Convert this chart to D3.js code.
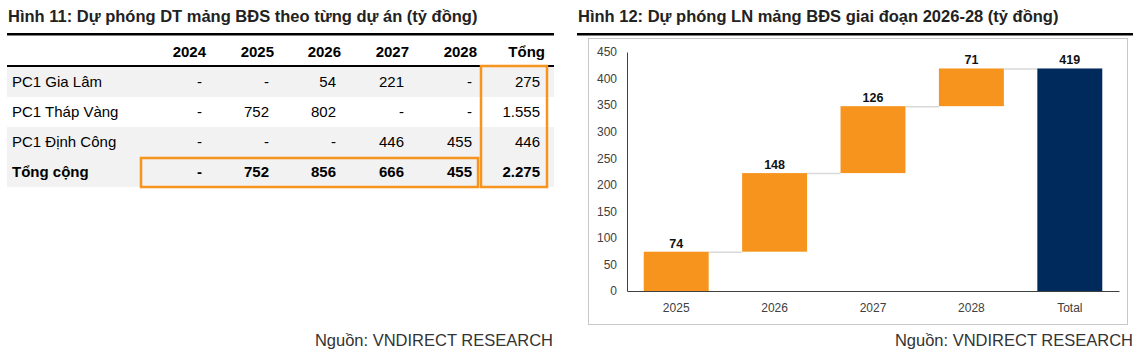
<!DOCTYPE html>
<html>
<head>
<meta charset="utf-8">
<script src="https://cdn.jsdelivr.net/npm/d3@7"></script>
<style>
  body { margin: 0; background: #fff; }
  svg { font-family: "Liberation Sans", Arial, sans-serif; }
</style>
</head>
<body>
<div id="chart"></div>
<script>
// table data (left)
const tableYears = ["2024", "2025", "2026", "2027", "2028", "Tổng"];
const projects = ["PC1 Gia Lâm", "PC1 Tháp Vàng", "PC1 Định Công", "Tổng cộng"];
const giaLam = ["-", "-", "54", "221", "-", "275"];
const thapVang = ["-", "752", "802", "-", "-", "1.555"];
const dinhCong = ["-", "-", "-", "446", "455", "446"];
const tongCong = ["-", "752", "856", "666", "455", "2.275"];

// waterfall data (right)
const wfCategories = ["2025", "2026", "2027", "2028", "Total"];
const wfIncrements = [74, 148, 126, 71];
const wfTotal = 419;
const yTicks = [0, 50, 100, 150, 200, 250, 300, 350, 400, 450];

const svg = d3.select("#chart").append("svg")
    .attr("width", 1133)
    .attr("height", 353);

const orange = "#f7941d";
const navy = "#002a5c";
const textCol = "#222";

// ---------- left panel: table ----------
svg.append("text")
    .attr("x", 8).attr("y", 22)
    .style("font-size", "16.5px").style("font-weight", "bold")
    .attr("fill", textCol)
    .text("Hình 11: Dự phóng DT mảng BĐS theo từng dự án (tỷ đồng)");

svg.append("rect").attr("x", 7).attr("y", 33).attr("width", 547).attr("height", 2.5).attr("fill", "#000");

const headerRight = [206, 274, 341, 409, 477, 545];
const valueRight = [202, 269, 336, 404, 472, 540];
const rowTop = 67, rowH = 30;

svg.selectAll(".hdr")
    .data(tableYears)
    .enter().append("text")
    .attr("class", "hdr")
    .attr("x", (d, i) => headerRight[i])
    .attr("y", 57)
    .attr("text-anchor", "end")
    .style("font-size", "15px").style("font-weight", "bold")
    .attr("fill", "#000")
    .text(d => d);

svg.append("rect").attr("x", 7).attr("y", 65).attr("width", 547).attr("height", 2).attr("fill", "#000");

const rows = [giaLam, thapVang, dinhCong, tongCong];
const rowFill = ["#f2f2f2", "#fff", "#f2f2f2", "#f2f2f2"];

const rowG = svg.selectAll(".row")
    .data(rows)
    .enter().append("g")
    .attr("class", "row")
    .attr("transform", (d, i) => `translate(0, ${rowTop + i * rowH})`);

rowG.append("rect")
    .attr("x", 7).attr("width", 547).attr("height", rowH)
    .attr("fill", (d, i) => rowFill[i]);

rowG.append("text")
    .attr("x", 12).attr("y", 20)
    .style("font-size", "15px")
    .style("font-weight", (d, i) => i === 3 ? "bold" : "normal")
    .attr("fill", "#000")
    .text((d, i) => projects[i]);

rowG.each(function(vals, ri) {
    d3.select(this).selectAll(".val")
        .data(vals)
        .enter().append("text")
        .attr("class", "val")
        .attr("x", (d, i) => valueRight[i])
        .attr("y", 20)
        .attr("text-anchor", "end")
        .style("font-size", "15px")
        .style("font-weight", ri === 3 ? "bold" : "normal")
        .attr("fill", "#000")
        .text(d => d);
});

// orange highlight boxes
svg.append("rect")
    .attr("x", 141).attr("y", 158).attr("width", 337).attr("height", 29)
    .attr("fill", "none").attr("stroke", orange).attr("stroke-width", 2.5);
svg.append("rect")
    .attr("x", 481).attr("y", 66).attr("width", 66).attr("height", 121)
    .attr("fill", "none").attr("stroke", orange).attr("stroke-width", 2.5);

svg.append("text")
    .attr("x", 553).attr("y", 346)
    .attr("text-anchor", "end")
    .style("font-size", "16.5px")
    .attr("fill", "#333")
    .text("Nguồn: VNDIRECT RESEARCH");

// ---------- right panel: waterfall ----------
svg.append("text")
    .attr("x", 578).attr("y", 22)
    .style("font-size", "16.5px").style("font-weight", "bold")
    .attr("fill", textCol)
    .text("Hình 12: Dự phóng LN mảng BĐS giai đoạn 2026-28 (tỷ đồng)");

svg.append("rect").attr("x", 577).attr("y", 33).attr("width", 556).attr("height", 2.5).attr("fill", "#000");

svg.append("rect")
    .attr("x", 588.5).attr("y", 38.5).attr("width", 539).attr("height", 286)
    .attr("fill", "#fff").attr("stroke", "#c8c8c8");

const margin = { top: 52, left: 627, right: 1119, bottom: 291 };

const x = d3.scaleBand()
    .domain(wfCategories)
    .range([margin.left, margin.right])
    .paddingInner(0.34)
    .paddingOuter(0.17);

const y = d3.scaleLinear()
    .domain([0, 450])
    .range([margin.bottom, margin.top]);

// cumulative steps
let run = 0;
const wfData = wfIncrements.map((v, i) => {
    const d = { cat: wfCategories[i], start: run, end: run + v, value: v, total: false };
    run += v;
    return d;
});
wfData.push({ cat: "Total", start: 0, end: wfTotal, value: wfTotal, total: true });

const chart = svg.append("g");

// connectors
chart.selectAll(".conn")
    .data(wfData.slice(0, -1))
    .enter().append("line")
    .attr("x1", d => x(d.cat) + x.bandwidth())
    .attr("x2", (d, i) => x(wfData[i + 1].cat))
    .attr("y1", d => y(d.end) + 0.5)
    .attr("y2", d => y(d.end) + 0.5)
    .attr("stroke", "#d9d9d9")
    .attr("stroke-width", 1.5);

chart.selectAll(".bar")
    .data(wfData)
    .enter().append("rect")
    .attr("class", "bar")
    .attr("x", d => x(d.cat))
    .attr("y", d => y(d.end))
    .attr("width", x.bandwidth())
    .attr("height", d => y(d.start) - y(d.end))
    .attr("fill", d => d.total ? navy : orange);

chart.selectAll(".lbl")
    .data(wfData)
    .enter().append("text")
    .attr("x", d => x(d.cat) + x.bandwidth() / 2)
    .attr("y", d => y(d.end) - 4)
    .attr("text-anchor", "middle")
    .style("font-size", "12.5px").style("font-weight", "bold")
    .attr("fill", "#111")
    .text(d => d.value);

// axes
const yAxis = chart.append("g")
    .attr("transform", `translate(${margin.left},0)`)
    .call(d3.axisLeft(y).tickValues(yTicks).tickSize(0).tickPadding(10));
yAxis.select(".domain").attr("stroke", "#404040");
yAxis.selectAll("text").style("font-size", "12px").attr("fill", "#404040")
    .style("font-family", "'Liberation Sans', Arial, sans-serif");

const xAxis = chart.append("g")
    .attr("transform", `translate(0,${margin.bottom})`)
    .call(d3.axisBottom(x).tickSize(0).tickPadding(12));
xAxis.select(".domain").attr("stroke", "#404040");
xAxis.selectAll("text").style("font-size", "12px").attr("fill", "#404040")
    .style("font-family", "'Liberation Sans', Arial, sans-serif");

svg.append("text")
    .attr("x", 1133).attr("y", 346)
    .attr("text-anchor", "end")
    .style("font-size", "16.5px")
    .attr("fill", "#333")
    .text("Nguồn: VNDIRECT RESEARCH");
</script>
</body>
</html>
